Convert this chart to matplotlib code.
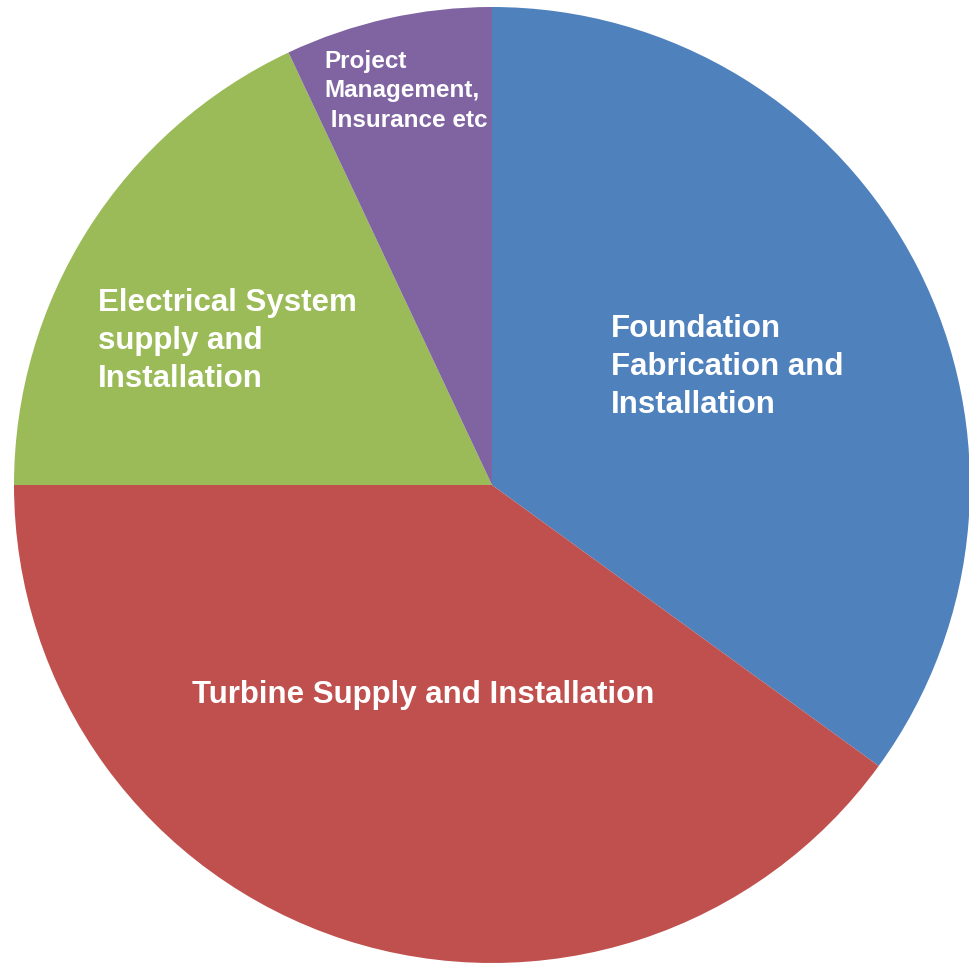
import matplotlib.pyplot as plt

# cost breakdown (percent)
labels = ['Foundation\nFabrication and\nInstallation',
          'Turbine Supply and Installation',
          'Electrical System\nsupply and\nInstallation',
          'Project\nManagement,\n Insurance etc']
shares = [35, 40, 18, 7]
colors = ['#4F81BD', '#C0504D', '#9BBB59', '#8064A2']

W, H = 970, 966
fig = plt.figure(figsize=(W / 100, H / 100), dpi=100)
ax = fig.add_axes([0, 0, 1, 1])
ax.pie(shares, colors=colors, startangle=90, counterclock=False,
       center=(492, H - 485), radius=478,
       wedgeprops=dict(linewidth=0))
ax.set_xlim(0, W)
ax.set_ylim(0, H)
ax.set_aspect('equal')
ax.axis('off')

font = dict(color='white', fontweight='bold', family=['Liberation Sans', 'DejaVu Sans'])
ax.text(611, H - 367, labels[0], fontsize=22.5, ha='left', va='center', linespacing=1.34, **font)
ax.text(423, H - 695, labels[1], fontsize=22.5, ha='center', va='center', **font)
ax.text(98, H - 341, labels[2], fontsize=22.5, ha='left', va='center', linespacing=1.36, **font)
ax.text(324, H - 91, labels[3], fontsize=17.5, ha='left', va='center', linespacing=1.34, **font)

plt.savefig('out.png', dpi=100)
